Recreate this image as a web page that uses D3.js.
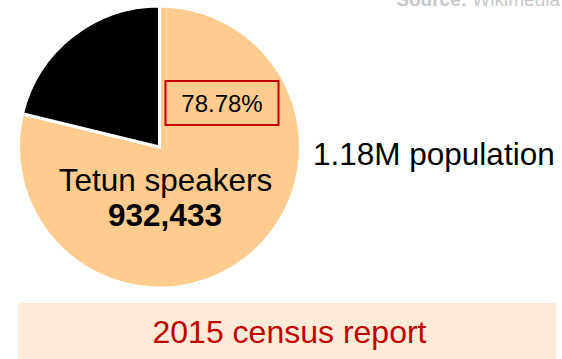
<!DOCTYPE html>
<html><head><meta charset="utf-8">
<script src="https://cdn.jsdelivr.net/npm/d3@7"></script>
<style>body{margin:0;background:#fff}svg{display:block}text{font-family:"Liberation Sans",Arial,sans-serif}</style>
</head><body>
<svg id="c" width="562" height="359"></svg>
<script>
const categories = ["Tetun speakers", "Other"];
const values = [932433, 251158];
const shareLabels = ["78.78%"];
const totalLabel = "1.18M population";
const footer = "2015 census report";
const colors = ["#fecc8e", "#000000"];

const svg = d3.select("#c");
const cx = 159.5, cy = 147, r = 141;
const pie = d3.pie().sort(null).value(d => d)(values);
const arc = d3.arc().innerRadius(0).outerRadius(r);
const g = svg.append("g").attr("transform", `translate(${cx},${cy})`);
g.selectAll("path").data(pie).enter().append("path")
  .attr("d", arc).attr("fill", (d,i) => colors[i])
  .attr("stroke", "#fff").attr("stroke-width", 3).attr("stroke-linejoin", "miter");

// source (partly cut off at the top edge, as in the reference)
const src = svg.append("text").attr("x", 560).attr("y", 6).attr("text-anchor", "end")
  .attr("font-size", 19).attr("fill", "#c8c8c8");
src.append("tspan").attr("font-weight", "bold").text("Source:");
src.append("tspan").text(" Wikimedia");

// percent box
svg.append("rect").attr("x", 165.5).attr("y", 81).attr("width", 113).attr("height", 44)
  .attr("fill", "none").attr("stroke", "#c00000").attr("stroke-width", 2);
svg.append("text").attr("x", 222).attr("y", 112).attr("text-anchor", "middle")
  .attr("font-size", 24).attr("fill", "#000").text(shareLabels[0]);

svg.append("text").attr("x", 165.5).attr("y", 190.5).attr("text-anchor", "middle")
  .attr("font-size", 31.5).attr("fill", "#000").text(categories[0]);
svg.append("text").attr("x", 165).attr("y", 226).attr("text-anchor", "middle")
  .attr("font-size", 31.5).attr("font-weight", "bold").attr("fill", "#000")
  .text(d3.format(",")(values[0]));

svg.append("text").attr("x", 313).attr("y", 165).attr("font-size", 31.5)
  .attr("fill", "#000").text(totalLabel);

svg.append("rect").attr("x", 18).attr("y", 303).attr("width", 538).attr("height", 56)
  .attr("fill", "#fdebd8");
svg.append("text").attr("x", 289.5).attr("y", 343).attr("text-anchor", "middle")
  .attr("font-size", 32).attr("fill", "#c00000").text(footer);
</script>
</body></html>
